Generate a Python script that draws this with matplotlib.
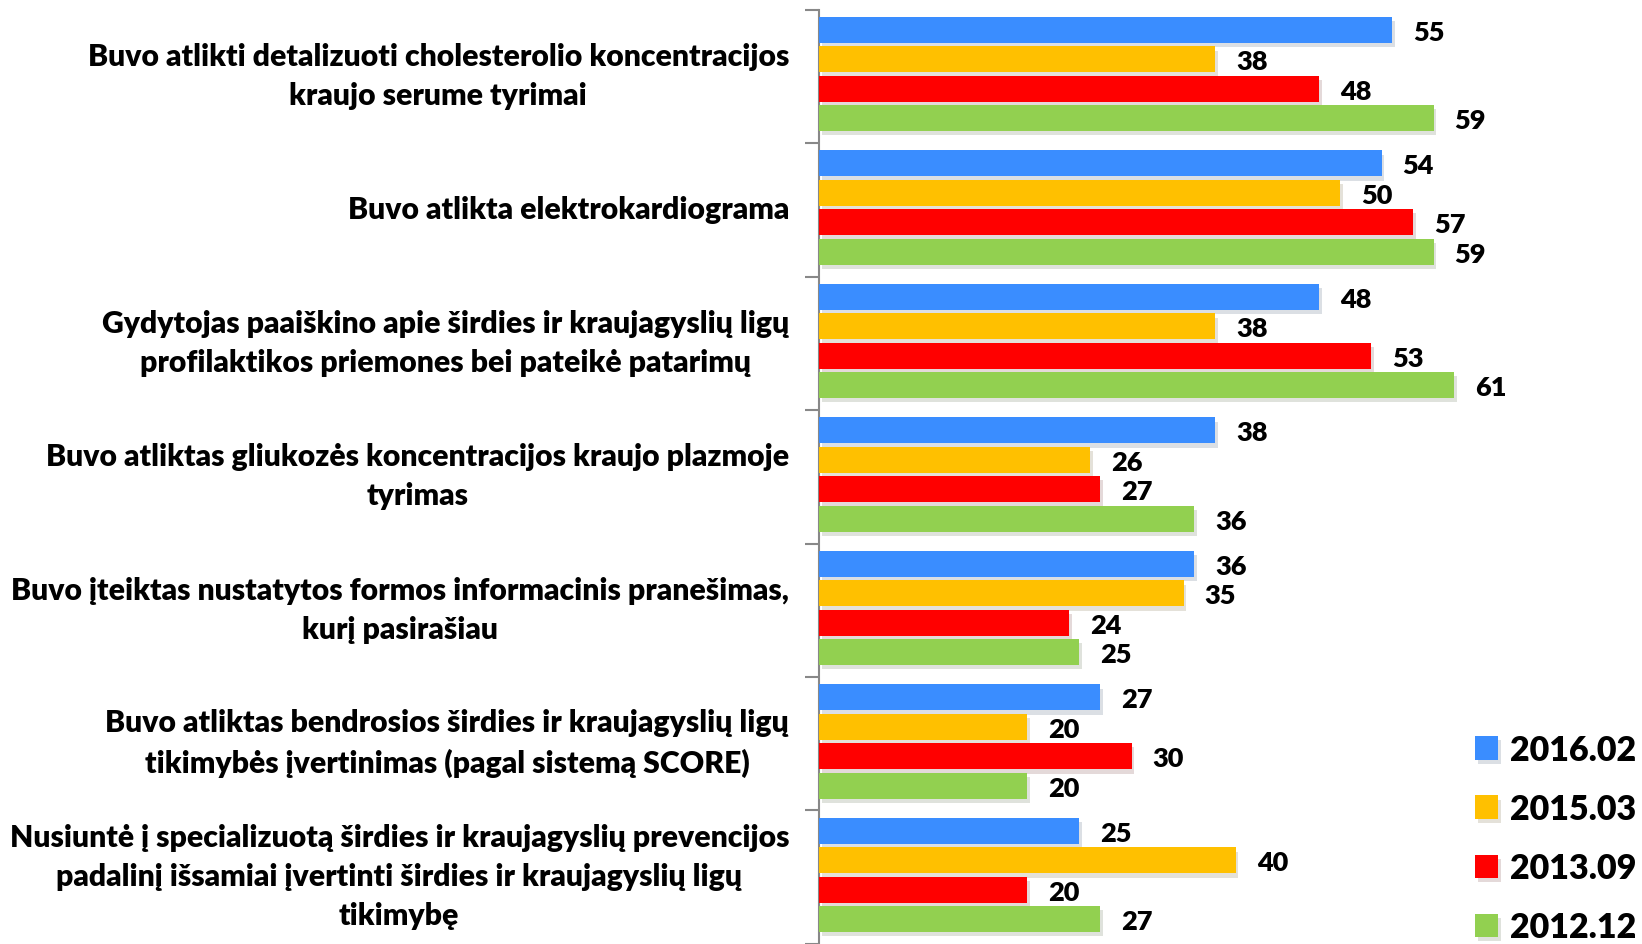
import matplotlib.pyplot as plt
import matplotlib.patheffects as pe
import numpy as np

plt.rcParams['font.family'] = ['Lato', 'DejaVu Sans']
plt.rcParams['font.weight'] = 'heavy'

categories = [
    "Buvo atlikti detalizuoti cholesterolio koncentracijos\nkraujo serume tyrimai",
    "Buvo atlikta elektrokardiograma",
    "Gydytojas paaiškino apie širdies ir kraujagyslių ligų\nprofilaktikos priemones bei pateikė patarimų",
    "Buvo atliktas gliukozės koncentracijos kraujo plazmoje\ntyrimas",
    "Buvo įteiktas nustatytos formos informacinis pranešimas,\nkurį pasirašiau",
    "Buvo atliktas bendrosios širdies ir kraujagyslių ligų\ntikimybės įvertinimas (pagal sistemą SCORE)",
    "Nusiuntė į specializuotą širdies ir kraujagyslių prevencijos\npadalinį išsamiai įvertinti širdies ir kraujagyslių ligų\ntikimybę",
]
series_names = ["2016.02", "2015.03", "2013.09", "2012.12"]
v_2016_02 = [55, 54, 48, 38, 36, 27, 25]
v_2015_03 = [38, 50, 38, 26, 35, 20, 40]
v_2013_09 = [48, 57, 53, 27, 24, 30, 20]
v_2012_12 = [59, 59, 61, 36, 25, 20, 27]
series_values = [v_2016_02, v_2015_03, v_2013_09, v_2012_12]
colors = ['#3a8dff', '#ffc000', '#ff0000', '#92d050']

fig = plt.figure(figsize=(16.42, 9.45), dpi=100)
ax = fig.add_axes([819 / 1642, 0.0, 1 - 819 / 1642, 1 - 10.5 / 945])

n = len(categories)
pitch = 0.2205
height = 0.195
shadow = [pe.SimplePatchShadow(offset=(2, -3), alpha=0.15), pe.Normal()]

for k, (name, vals, col) in enumerate(zip(series_names, series_values, colors)):
    y = np.arange(n) + 0.5 + (k - 1.5) * pitch - 0.016
    bars = ax.barh(y, vals, height=height, color=col, label=name, zorder=3)
    for b in bars:
        b.set_path_effects(shadow)
    for yy, v in zip(y, vals):
        ax.annotate(str(v), xy=(v, yy), xytext=(21, -2), textcoords='offset pixels',
                    ha='left', va='center', fontsize=19.5, fontweight='heavy')

# category labels: right aligned block, lines centred inside it
for i, lab in enumerate(categories):
    ax.annotate(lab, xy=(0, i + 0.5), xycoords=('axes fraction', 'data'),
                xytext=(-30, 1), textcoords='offset pixels', ha='right', va='center',
                multialignment='center', fontsize=21.7, fontweight='heavy', linespacing=1.48)

ax.set_xlim(0, 79)
ax.set_ylim(n, 0)
ax.set_xticks([])
ax.set_yticks(np.arange(n + 1))
ax.set_yticklabels([])
ax.tick_params(axis='y', direction='out', length=10, width=1.5, color='#888888')
for s in ['top', 'right', 'bottom']:
    ax.spines[s].set_visible(False)
ax.spines['left'].set_color('#888888')
ax.spines['left'].set_linewidth(1.5)
ax.set_facecolor('none')

leg = fig.legend(loc='lower right', bbox_to_anchor=(1.004, -0.012), frameon=False,
                 fontsize=24.5, handlelength=0.68, handleheight=0.68, handletextpad=0.35,
                 labelspacing=0.8, borderaxespad=0.1, borderpad=0.25)

fig.savefig('out.png', dpi=100)
